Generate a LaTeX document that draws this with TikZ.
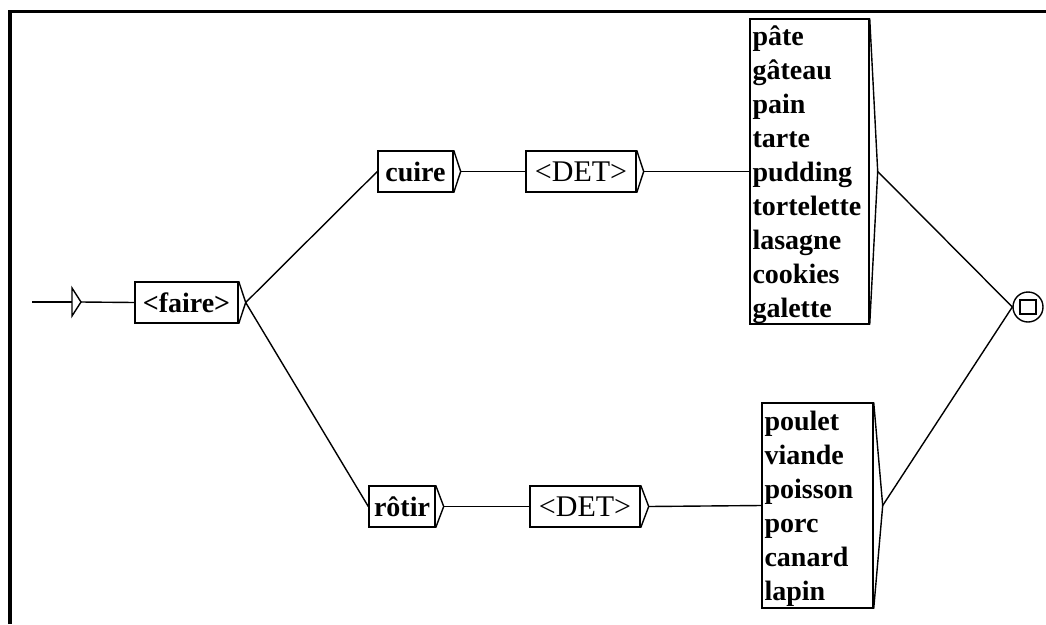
\documentclass[tikz,border=0pt]{standalone}
\usepackage{fontspec}
\setmainfont{Liberation Serif}
\usetikzlibrary{calc}
\begin{document}
\begin{tikzpicture}[x=1pt,y=-1pt,
  ln/.style={line width=1.4pt},
  box/.style={draw,line width=1.4pt,rectangle,inner sep=0pt,minimum height=41pt,
    font=\fontsize{28}{34}\selectfont\bfseries},
  detbox/.style={box,font=\fontsize{30}{34}\selectfont},
  listbox/.style={draw,line width=1.4pt,rectangle,inner xsep=2.5pt,inner ysep=0pt,
    align=left,font=\fontsize{28}{34}\selectfont\bfseries},
]
\useasboundingbox (0,0) rectangle (1046,624);
\fill[white] (0,0) rectangle (1046,624);
\draw[line width=3.3pt] (10,624) -- (10,11.5) -- (1046,11.5);

% initial state
\coordinate (start) at (32,302);
\coordinate (initl) at (72,302);
\coordinate (inittip) at (81,302);
\draw[ln] (72,288) -- (inittip) -- (72,316) -- cycle;
\draw[ln] (start) -- (initl);

% boxes
\node[box,minimum width=103pt] (faire) at (186.5,302.5) {<faire>};
\node[box,minimum width=75pt] (cuire) at (415.5,171.5) {cuire};
\node[detbox,minimum width=110pt] (det1) at (581,171.5) {<DET>};
\node[listbox,minimum width=119pt,minimum height=305pt,text width=114pt] (list1) at (809.5,171.5)
  {\rule{0pt}{26pt}pâte\\gâteau\\pain\\tarte\\pudding\\tortelette\\lasagne\\cookies\\galette};
\node[box,minimum width=66pt] (rotir) at (402,506.5) {rôtir};
\node[detbox,minimum width=110pt] (det2) at (585,506.5) {<DET>};
\node[listbox,minimum width=111pt,minimum height=205pt,text width=106pt] (list2) at (817.5,505.5)
  {\rule{0pt}{26pt}poulet\\viande\\poisson\\porc\\canard\\lapin};

% final state
\node[draw,circle,line width=1.4pt,minimum size=30pt,inner sep=0pt] (final) at (1028,307) {};
\node[draw,line width=1.4pt,minimum width=16pt,minimum height=14pt,inner sep=0pt] (finalsq) at (final.center) {};

% output triangles
\foreach \n/\d in {faire/7,cuire/7,det1/7,rotir/8,det2/8,list1/8,list2/9}{
  \coordinate (\n-out) at ($(\n.east)+(\d,0)$);
  \draw[ln] (\n.north east) -- (\n-out) -- (\n.south east);
}

% connectors
\draw[ln] (inittip) -- (faire.west);
\draw[ln] (faire-out) -- (cuire.west);
\draw[ln] (faire-out) -- (rotir.west);
\draw[ln] (cuire-out) -- (det1.west);
\draw[ln] (det1-out) -- (list1.west);
\draw[ln] (rotir-out) -- (det2.west);
\draw[ln] (det2-out) -- (list2.west);
\draw[ln] (list1-out) -- (final.west);
\draw[ln] (list2-out) -- (final.west);
\end{tikzpicture}
\end{document}
